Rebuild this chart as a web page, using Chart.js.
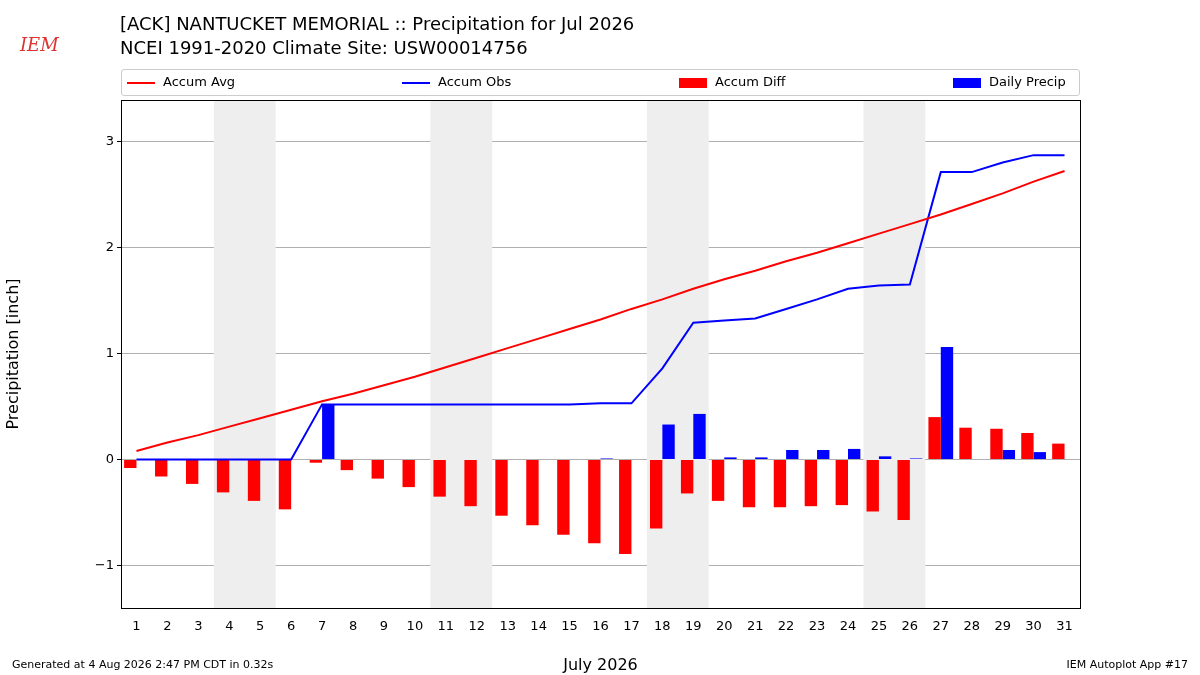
<!DOCTYPE html>
<html><head><meta charset="utf-8">
<script src="https://cdn.jsdelivr.net/npm/chart.js@4"></script>
<style>
body{margin:0;background:#fff;font-family:"DejaVu Sans",sans-serif;}
#wrap{position:relative;width:1200px;height:675px;}
canvas{position:absolute;left:0;top:0;}
.t{position:absolute;font-size:18px;color:#000;white-space:nowrap;}
.s{position:absolute;font-size:11px;white-space:nowrap;}
#legend{position:absolute;left:121px;top:69px;width:957px;height:25px;border:1px solid #ccc;border-radius:3px;font-size:13px;}
.li{position:absolute;top:4px;}
.sw{display:inline-block;vertical-align:middle;margin-right:8px;}
</style></head><body>
<div id="wrap">
<canvas id="c" width="1200" height="675"></canvas>
<div class="t" style="left:12px;top:8px;font-family:'DejaVu Serif',serif;font-style:italic;color:#d33;font-size:18px;top:34px;left:20px">IEM</div>
<div class="t" style="left:120px;top:13px">[ACK] NANTUCKET MEMORIAL :: Precipitation for Jul 2026</div>
<div class="t" style="left:120px;top:37px">NCEI 1991-2020 Climate Site: USW00014756</div>
<div id="legend">
 <div class="li" style="left:5px"><span class="sw" style="width:28px;height:2px;background:#f00"></span>Accum Avg</div>
 <div class="li" style="left:280px"><span class="sw" style="width:28px;height:2px;background:#00f"></span>Accum Obs</div>
 <div class="li" style="left:557px"><span class="sw" style="width:28px;height:10px;background:#f00"></span>Accum Diff</div>
 <div class="li" style="left:831px"><span class="sw" style="width:28px;height:10px;background:#00f"></span>Daily Precip</div>
</div>
<div class="s" style="left:12px;top:658px">Generated at 4 Aug 2026 2:47 PM CDT in 0.32s</div>
<div class="s" style="right:12px;top:658px">IEM Autoplot App #17</div>
</div>
<script>
var days = [];
for (var d = 1; d <= 31; d++) days.push(String(d));
var accumAvg = [0.08,0.16,0.23,0.31,0.39,0.47,0.55,0.62,0.70,0.78,0.87,0.96,1.05,1.14,1.23,1.32,1.42,1.51,1.61,1.70,1.78,1.87,1.95,2.04,2.13,2.22,2.31,2.41,2.51,2.62,2.72];
var accumObs = [0,0,0,0,0,0,0.52,0.52,0.52,0.52,0.52,0.52,0.52,0.52,0.52,0.53,0.53,0.86,1.29,1.31,1.33,1.42,1.51,1.61,1.64,1.65,2.71,2.71,2.80,2.87,2.87];
var accumDiff = [-0.08,-0.16,-0.23,-0.31,-0.39,-0.47,-0.03,-0.10,-0.18,-0.26,-0.35,-0.44,-0.53,-0.62,-0.71,-0.79,-0.89,-0.65,-0.32,-0.39,-0.45,-0.45,-0.44,-0.43,-0.49,-0.57,0.40,0.30,0.29,0.25,0.15];
var dailyPrecip = [0,0,0,0,0,0,0.52,0,0,0,0,0,0,0,0,0.01,0,0.33,0.43,0.02,0.02,0.09,0.09,0.10,0.03,0.01,1.06,0,0.09,0.07,0];
var weekends = [[4,5],[11,12],[18,19],[25,26]];

var shade = {
  id: 'shade',
  beforeDatasetsDraw: function(chart) {
    var ctx = chart.ctx, x = chart.scales.x, a = chart.chartArea;
    var step = x.getPixelForValue(1) - x.getPixelForValue(0);
    ctx.save();
    ctx.fillStyle = '#eeeeee';
    weekends.forEach(function(w) {
      var x0 = x.getPixelForValue(w[0] - 1) - step / 2;
      var x1 = x.getPixelForValue(w[1] - 1) + step / 2;
      ctx.fillRect(x0, a.top, x1 - x0, a.bottom - a.top);
    });
    ctx.restore();
  },
  afterDraw: function(chart) {
    var ctx = chart.ctx, a = chart.chartArea;
    ctx.save();
    ctx.strokeStyle = '#000';
    ctx.lineWidth = 1;
    ctx.strokeRect(a.left + 0.5, a.top + 0.5, a.right - a.left, a.bottom - a.top);
    ctx.restore();
  }
};

Chart.defaults.font.family = 'DejaVu Sans';
Chart.defaults.color = '#000';
new Chart(document.getElementById('c').getContext('2d'), {
  type: 'bar',
  data: {
    labels: days,
    datasets: [
      {type: 'line', label: 'Accum Avg', data: accumAvg, borderColor: '#f00', borderWidth: 2, pointRadius: 0, order: 0},
      {type: 'line', label: 'Accum Obs', data: accumObs, borderColor: '#00f', borderWidth: 2, pointRadius: 0, order: 0},
      {label: 'Accum Diff', data: accumDiff, backgroundColor: '#f00', order: 1},
      {label: 'Daily Precip', data: dailyPrecip, backgroundColor: '#00f', order: 1}
    ]
  },
  options: {
    responsive: false,
    animation: false,
    layout: {padding: {left: 0, top: 100, right: 120, bottom: 0}},
    datasets: {bar: {barPercentage: 1, categoryPercentage: 0.8}},
    plugins: {legend: {display: false}, tooltip: {enabled: false}},
    scales: {
      x: {
        offset: true,
        grid: {display: false},
        border: {color: '#000'},
        ticks: {font: {size: 13}, maxRotation: 0, autoSkip: false},
        title: {display: true, text: 'July 2026', font: {size: 16}, padding: 0},
        afterFit: function(s) { s.height = 67; }
      },
      y: {
        min: -1.4, max: 3.39,
        afterBuildTicks: function(s) { s.ticks = [-1,0,1,2,3].map(function(v){return {value: v};}); },
        grid: {color: '#b0b0b0', drawTicks: true, tickColor: '#000', tickLength: 4},
        border: {color: '#000'},
        ticks: {font: {size: 13}, callback: function(v){ return v < 0 ? '\u2212' + Math.abs(v) : v; }},
        title: {display: true, text: 'Precipitation [inch]', font: {size: 16}},
        afterFit: function(s) { s.width = 121; }
      }
    }
  },
  plugins: [shade]
});
</script>
</body></html>
